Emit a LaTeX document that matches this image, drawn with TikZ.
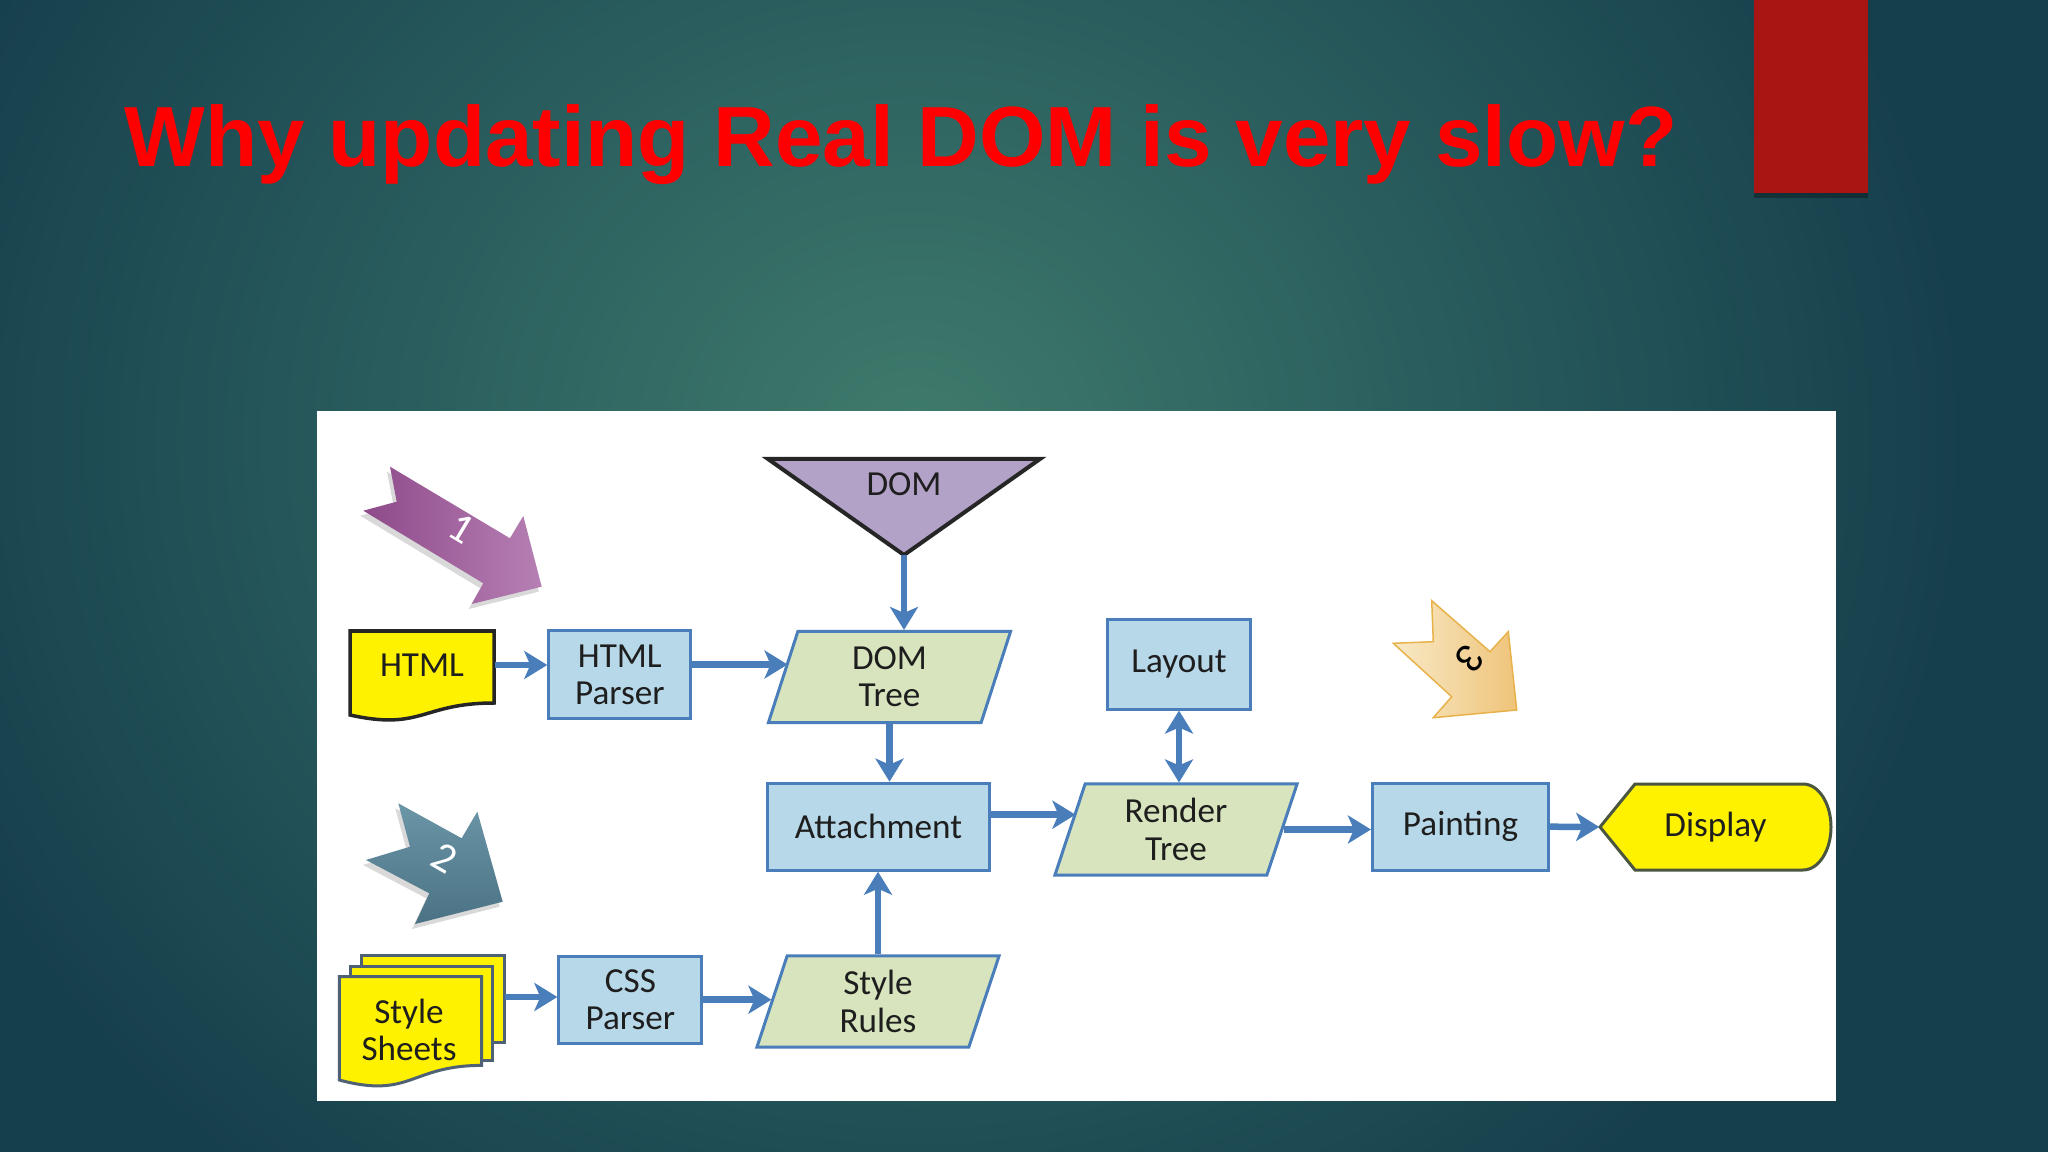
\documentclass[tikz,border=0pt]{standalone}
\usepackage{fontspec}
\setmainfont{Carlito}
\newfontfamily\titlefont{Liberation Sans}
\usetikzlibrary{shapes.geometric,arrows.meta,calc}
\definecolor{bgdark}{HTML}{163F4C}
\definecolor{bgmid}{HTML}{2A5E5E}
\definecolor{bglight}{HTML}{3F7B6C}
\definecolor{barred}{HTML}{A81512}
\definecolor{arrblue}{HTML}{4A7EBB}
\definecolor{boxfill}{HTML}{B7D8E8}
\definecolor{parafill}{HTML}{D7E4BD}
\definecolor{domfill}{HTML}{B3A2C7}
\definecolor{txt}{HTML}{1E1E1E}
\definecolor{sheetline}{HTML}{4F6275}
\definecolor{displine}{HTML}{4A5640}
\definecolor{purpA}{HTML}{8E4A8A}
\definecolor{purpB}{HTML}{B680B4}
\definecolor{blueA}{HTML}{4A7284}
\definecolor{blueB}{HTML}{6B96A7}
\definecolor{yelA}{HTML}{F8E9C6}
\definecolor{yelB}{HTML}{EFC47A}
\definecolor{yelL}{HTML}{E8B24A}
\pgfdeclareradialshading{bgglow}{\pgfpoint{0bp}{0bp}}{color(0bp)=(bglight); color(12bp)=(bgmid); color(25bp)=(bgdark); color(50bp)=(bgdark)}
\begin{document}
\begin{tikzpicture}[x=0.01cm,y=-0.01cm,
  lbl/.style={font=\fontsize{10}{10.6}\selectfont, text=txt, align=center},
  box/.style={lbl, draw=arrblue, line width=0.03cm, fill=boxfill, inner sep=0},
  para/.style={lbl, shape=trapezium, trapezium left angle=64, trapezium right angle=116,
    trapezium stretches=true, trapezium stretches body=true,
    draw=arrblue, line width=0.03cm, fill=parafill, minimum width=2.42cm, minimum height=0.91cm, inner sep=0},
  arr/.style={draw=arrblue, line width=0.065cm, -{Stealth[length=0.23cm,width=0.28cm,inset=0.06cm]}},
  darr/.style={draw=arrblue, line width=0.065cm, {Stealth[length=0.23cm,width=0.28cm,inset=0.06cm]}-{Stealth[length=0.23cm,width=0.28cm,inset=0.06cm]}},
  numlbl/.style={font=\fontsize{12}{12}\selectfont, inner sep=0},
  sheet/.style={fill=yellow, draw=sheetline, line width=0.03cm}
]
\useasboundingbox (0,0) rectangle (2048,1152);
% background
\fill[bgdark] (0,0) rectangle (2048,1152);
\begin{scope}
\clip (0,0) rectangle (2048,1152);
\shade[shading=bgglow] (914,440) ellipse [x radius=1050, y radius=950];
\end{scope}
% red bar
\fill[black, opacity=0.3] (1754,190) rectangle (1868,198);
\fill[barred] (1754,0) rectangle (1868,193);
% title
\node[anchor=base west, inner sep=0, text=red, font=\titlefont\bfseries\fontsize{24.3}{28}\selectfont] (title) at (124,167) {Why updating Real DOM is very slow?};
% white panel
\fill[white] (317,411) rectangle (1836,1101);

% block arrow 1 (purple)
\fill[black, opacity=0.15] (387,471.7) -- (507,543.3) -- (520.3,521) -- (538.7,591.7) -- (468.7,609) -- (480.3,588.3) -- (360.3,515.7) -- (393.7,506.7) -- cycle;
\shade[left color=purpA, right color=purpB] (390,466.7) -- (510,538.3) -- (523.3,516) -- (541.7,586.7) -- (471.7,604) -- (483.3,583.3) -- (363.3,510.7) -- (396.7,501.7) -- cycle;
\node[numlbl, text=white, rotate=-31] (n1) at (461.7,528.3) {1};
% block arrow 2 (blue)
\fill[black, opacity=0.15] (395.3,808.3) -- (458.7,843.3) -- (474.3,816.7) -- (499.7,906.7) -- (412,929) -- (426.3,898.3) -- (363,865) -- (407,851.7) -- cycle;
\shade[top color=blueB, bottom color=blueA] (398.3,803.3) -- (461.7,838.3) -- (477.3,811.7) -- (502.7,901.7) -- (415,924) -- (429.3,893.3) -- (366,860) -- (410,846.7) -- cycle;
\node[numlbl, text=white, rotate=-30] (n2) at (445,858) {2};
% block arrow 3 (yellow)
\shade[left color=yelA, right color=yelB, draw=yelL, line width=0.015cm] (1431.7,600.7) -- (1490,651.7) -- (1508.3,631.7) -- (1516.7,710) -- (1433.3,717.7) -- (1451.7,696.7) -- (1393.3,643.3) -- (1433.3,641.7) -- cycle;
\node[numlbl, text=black, rotate=-130] (n3) at (1470,658) {3};

% HTML document shape
\draw[fill=yellow, draw=black!85, line width=0.035cm] (350,631) -- (494,631) -- (494,703) .. controls (422,703) and (422,731) .. (350,715) -- cycle;
\node[lbl, inner sep=0, minimum width=1.44cm, minimum height=0.6cm] (html) at (422,665) {HTML};
% Style sheets (multi document)
\draw[sheet] (361.7,955) rectangle (504,1042);
\draw[sheet] (350.7,966) rectangle (492.7,1060);
\draw[sheet] (339.3,976.7) -- (481.7,976.7) -- (481.7,1065.4) .. controls (410.5,1065.4) and (410.5,1099.2) .. (339.3,1080) -- cycle;
\node[lbl] (sheets) at (409,1030) {Style\\Sheets};
\coordinate (sheetsR) at (505,997);
% DOM triangle
\draw[fill=domfill, draw=black!85, line width=0.04cm, line join=miter] (768,459) -- (1040,459) -- (904,555) -- cycle;
\coordinate (domapex) at (904,555);
\node[lbl] (dom) at (904,484) {DOM};
% Display shape
\draw[fill=yellow, draw=displine, line width=0.03cm] (1600,827) -- (1635,784) -- (1803,784) .. controls (1818.5,784) and (1831,803.3) .. (1831,827) .. controls (1831,850.7) and (1818.5,870) .. (1803,870) -- (1635,870) -- cycle;
\node[lbl, inner sep=0, minimum width=2.31cm, minimum height=0.86cm] (disp) at (1715.5,827) {Display};

% boxes
\node[box, minimum width=1.42cm, minimum height=0.87cm] (parser) at (619.8,674.5) {HTML\\Parser};
\node[box, minimum width=1.43cm, minimum height=0.87cm] (cssparser) at (630.4,999.7) {CSS\\Parser};
\node[box, minimum width=2.22cm, minimum height=0.87cm] (attach) at (878.5,826.7) {Attachment};
\node[box, minimum width=1.42cm, minimum height=0.89cm] (layout) at (1179,664.5) {Layout};
\node[box, minimum width=1.76cm, minimum height=0.87cm] (painting) at (1460.5,826.7) {Painting};
\node[para] (domtree) at (889.5,677) {DOM\\Tree};
\node[para] (rendertree) at (1176,829.5) {Render\\Tree};
\node[para] (stylerules) at (878,1001.5) {Style\\Rules};

% connectors
\draw[arr] (html.east) -- (html.east -| parser.west);
\draw[arr] ([yshift=0.1cm]parser.east) -- ($([yshift=0.1cm]parser.east -| domtree.west)+(6,0)$);
\draw[arr] (domapex) -- (domapex |- domtree.north);
\draw[arr] (domtree.south) -- (domtree.south |- attach.north);
\draw[arr] (stylerules.north) -- (stylerules.north |- attach.south);
\draw[arr] ([yshift=0.12cm]attach.east) -- ($([yshift=0.12cm]attach.east -| rendertree.west)+(7,0)$);
\draw[darr] (layout.south) -- (layout.south |- rendertree.north);
\draw[arr] (rendertree.east) -- (rendertree.east -| painting.west);
\draw[arr] (painting.east) -- (disp.west);
\draw[arr] (sheetsR) -- (sheetsR -| cssparser.west);
\draw[arr] (cssparser.east) -- ($(cssparser.east -| stylerules.west)+(1,0)$);
\end{tikzpicture}
\end{document}
